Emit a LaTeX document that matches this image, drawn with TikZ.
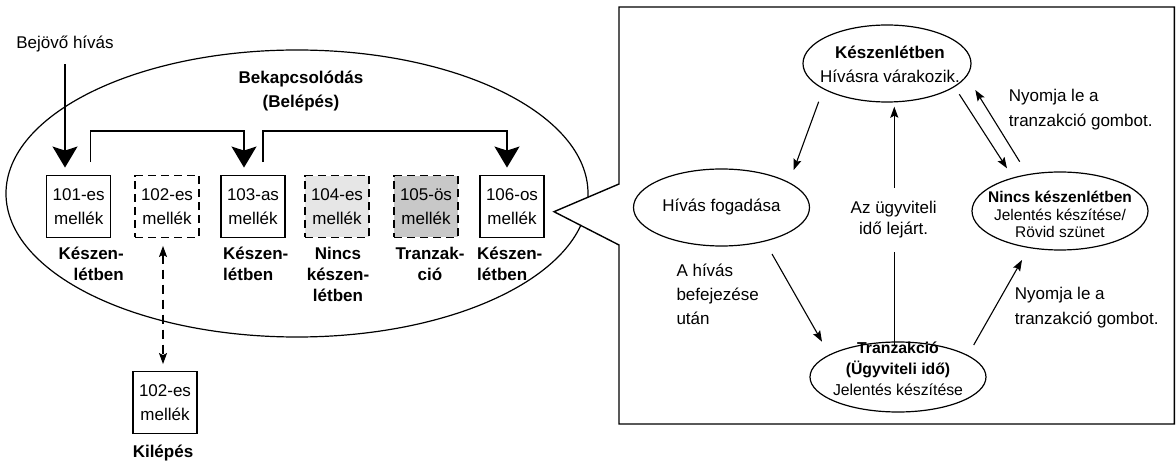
\documentclass[tikz,border=0pt]{standalone}
\usepackage{fontspec}
\setmainfont{Liberation Sans}
\usetikzlibrary{arrows.meta,shapes.geometric,calc}
\definecolor{shadeA}{RGB}{230,230,230}
\definecolor{shadeB}{RGB}{200,200,200}
\begin{document}
\begin{tikzpicture}[x=1pt,y=-1pt,
  txt/.style={inner sep=0pt, font=\fontsize{17}{24}\selectfont},
  boldtxt/.style={inner sep=0pt, font=\fontsize{17}{21}\selectfont\bfseries},
  ext/.style={draw, line width=1.4pt, minimum width=64pt, minimum height=61.5pt,
    inner sep=0pt, align=center, font=\fontsize{17}{24}\selectfont},
  extdash/.style={ext, dash pattern=on 8pt off 5pt},
  bigarrow/.style={line width=1.4pt, -{Stealth[length=21pt,width=25pt,inset=4pt]}},
  smallarrow/.style={line width=1.1pt, -{Stealth[length=11pt,width=8pt,inset=2pt]}},
  state/.style={draw, ellipse, line width=1.2pt, minimum width=176pt,
    minimum height=77pt, inner sep=0pt, font=\fontsize{17}{24}\selectfont},
]
\useasboundingbox (0,0) rectangle (1176,465);

% group of extensions
\node[draw, ellipse, line width=1.2pt, minimum width=582pt, minimum height=287pt] (grp) at (297,193.5) {};
\node[txt, align=center, font=\fontsize{17}{24}\selectfont\bfseries] (grpname) at (301,91) {Bekapcsolódás\\(Belépés)};

\node[ext] (b101) at (78.7,206.5) {101-es\\mellék};
\node[extdash] (b102) at (167,206.5) {102-es\\mellék};
\node[ext] (b103) at (253,206.5) {103-as\\mellék};
\node[extdash, fill=shadeA] (b104) at (337,206.5) {104-es\\mellék};
\node[extdash, fill=shadeB] (b105) at (426,206.5) {105-ös\\mellék};
\node[ext] (b106) at (512,206.5) {106-os\\mellék};
\node[ext] (b102out) at (165,402.5) {102-es\\mellék};

\node[boldtxt, anchor=east, align=right] (s101) at (124,264) {Készen-\\létben};
\node[boldtxt, anchor=west, align=left] (s103) at (223,264) {Készen-\\létben};
\node[boldtxt, align=center] (s104) at (338,274) {Nincs\\készen-\\létben};
\node[boldtxt, align=center] (s105) at (430,264) {Tranzak-\\ció};
\node[boldtxt, anchor=west, align=left] (s106) at (477,264) {Készen-\\létben};
\node[boldtxt] (kil) at (163,453) {Kilépés};

% incoming call and hunting
\node[txt] (bin) at (65,44) {Bejövő hívás};
\draw[bigarrow, shorten <=12pt, shorten >=7.5pt] (bin.south) -- (bin.south |- b101.north);
\draw[bigarrow] ([xshift=12pt,yshift=13pt]b101.north) -- ([xshift=12pt,yshift=44pt]b101.north)
  -- ([xshift=-9pt,yshift=44pt]b103.north) -- ([xshift=-9pt,yshift=7.5pt]b103.north);
\draw[bigarrow] ([xshift=10pt,yshift=13pt]b103.north) -- ([xshift=10pt,yshift=44pt]b103.north)
  -- ([xshift=-5pt,yshift=44pt]b106.north) -- ([xshift=-5pt,yshift=7.5pt]b106.north);
\draw[line width=1.1pt, dash pattern=on 9pt off 6pt,
  {Stealth[length=11pt,width=8pt,inset=2pt]}-{Stealth[length=11pt,width=8pt,inset=2pt]}]
  ([xshift=-4pt,yshift=-8pt]b102.south) -- ([xshift=-2pt,yshift=7pt]b102out.north);

% callout frame
\draw[line width=1.4pt, fill=white] (619,7) -- (1174.3,7) -- (1174.3,424) -- (619,424)
  -- (619,245) -- (554,211.7) -- (619,184) -- cycle;

% agent states
\node[state, minimum width=168pt] (K) at (887,63.5) {};
\node[txt, align=center] (Kt) at (890,64) {{\bfseries Készenlétben}\\Hívásra várakozik.};
\node[state] (H) at (721.5,207.5) {Hívás fogadása};
\node[state, minimum height=78pt] (N) at (1060,211) {};
\node[txt, align=center, font=\fontsize{15.5}{17.5}\selectfont] (Nt) at (1060,214.5)
  {{\bfseries Nincs készenlétben}\\Jelentés készítése/\\Rövid szünet};
\node[state, minimum height=70pt] (T) at (898,377) {};
\node[txt, align=center, font=\fontsize{15.8}{21}\selectfont] (Tt) at (898,369)
  {{\bfseries Tranzakció}\\{\bfseries (Ügyviteli idő)}\\Jelentés készítése};

\draw[smallarrow] ($(K)+(-68.3,38.2)$) -- ($(H)+(72.2,-37.5)$);
\draw[smallarrow] ($(T)+(-3.7,-32)$) -- ($(K)+(7.3,43.2)$);
\draw[smallarrow] ($(H)+(50.5,46.5)$) -- ($(T)+(-76,-35.3)$);
\draw[smallarrow] ($(T)+(75.7,-32)$) -- ($(N)+(-38,49)$);
\draw[smallarrow] ($(K)+(72.3,30.8)$) -- ($(N)+(-53,-42.7)$);
\draw[smallarrow] ($(N)+(-40.3,-49.3)$) -- ($(K)+(88.3,26.5)$);

\node[txt, align=center, fill=white, inner xsep=2pt, inner ysep=14pt,
  font=\fontsize{17}{21}\selectfont] (expire) at (893.7,220) {Az ügyviteli\\idő lejárt.};
\node[txt, anchor=west, align=left] (after) at (676.3,294.5) {A hívás\\befejezése\\után};
\node[txt, anchor=west, align=left, font=\fontsize{17}{25}\selectfont] (press1) at (1008.7,109.5)
  {Nyomja le a\\tranzakció gombot.};
\node[txt, anchor=west, align=left, font=\fontsize{17}{25}\selectfont] (press2) at (1014.7,308)
  {Nyomja le a\\tranzakció gombot.};
\end{tikzpicture}
\end{document}
